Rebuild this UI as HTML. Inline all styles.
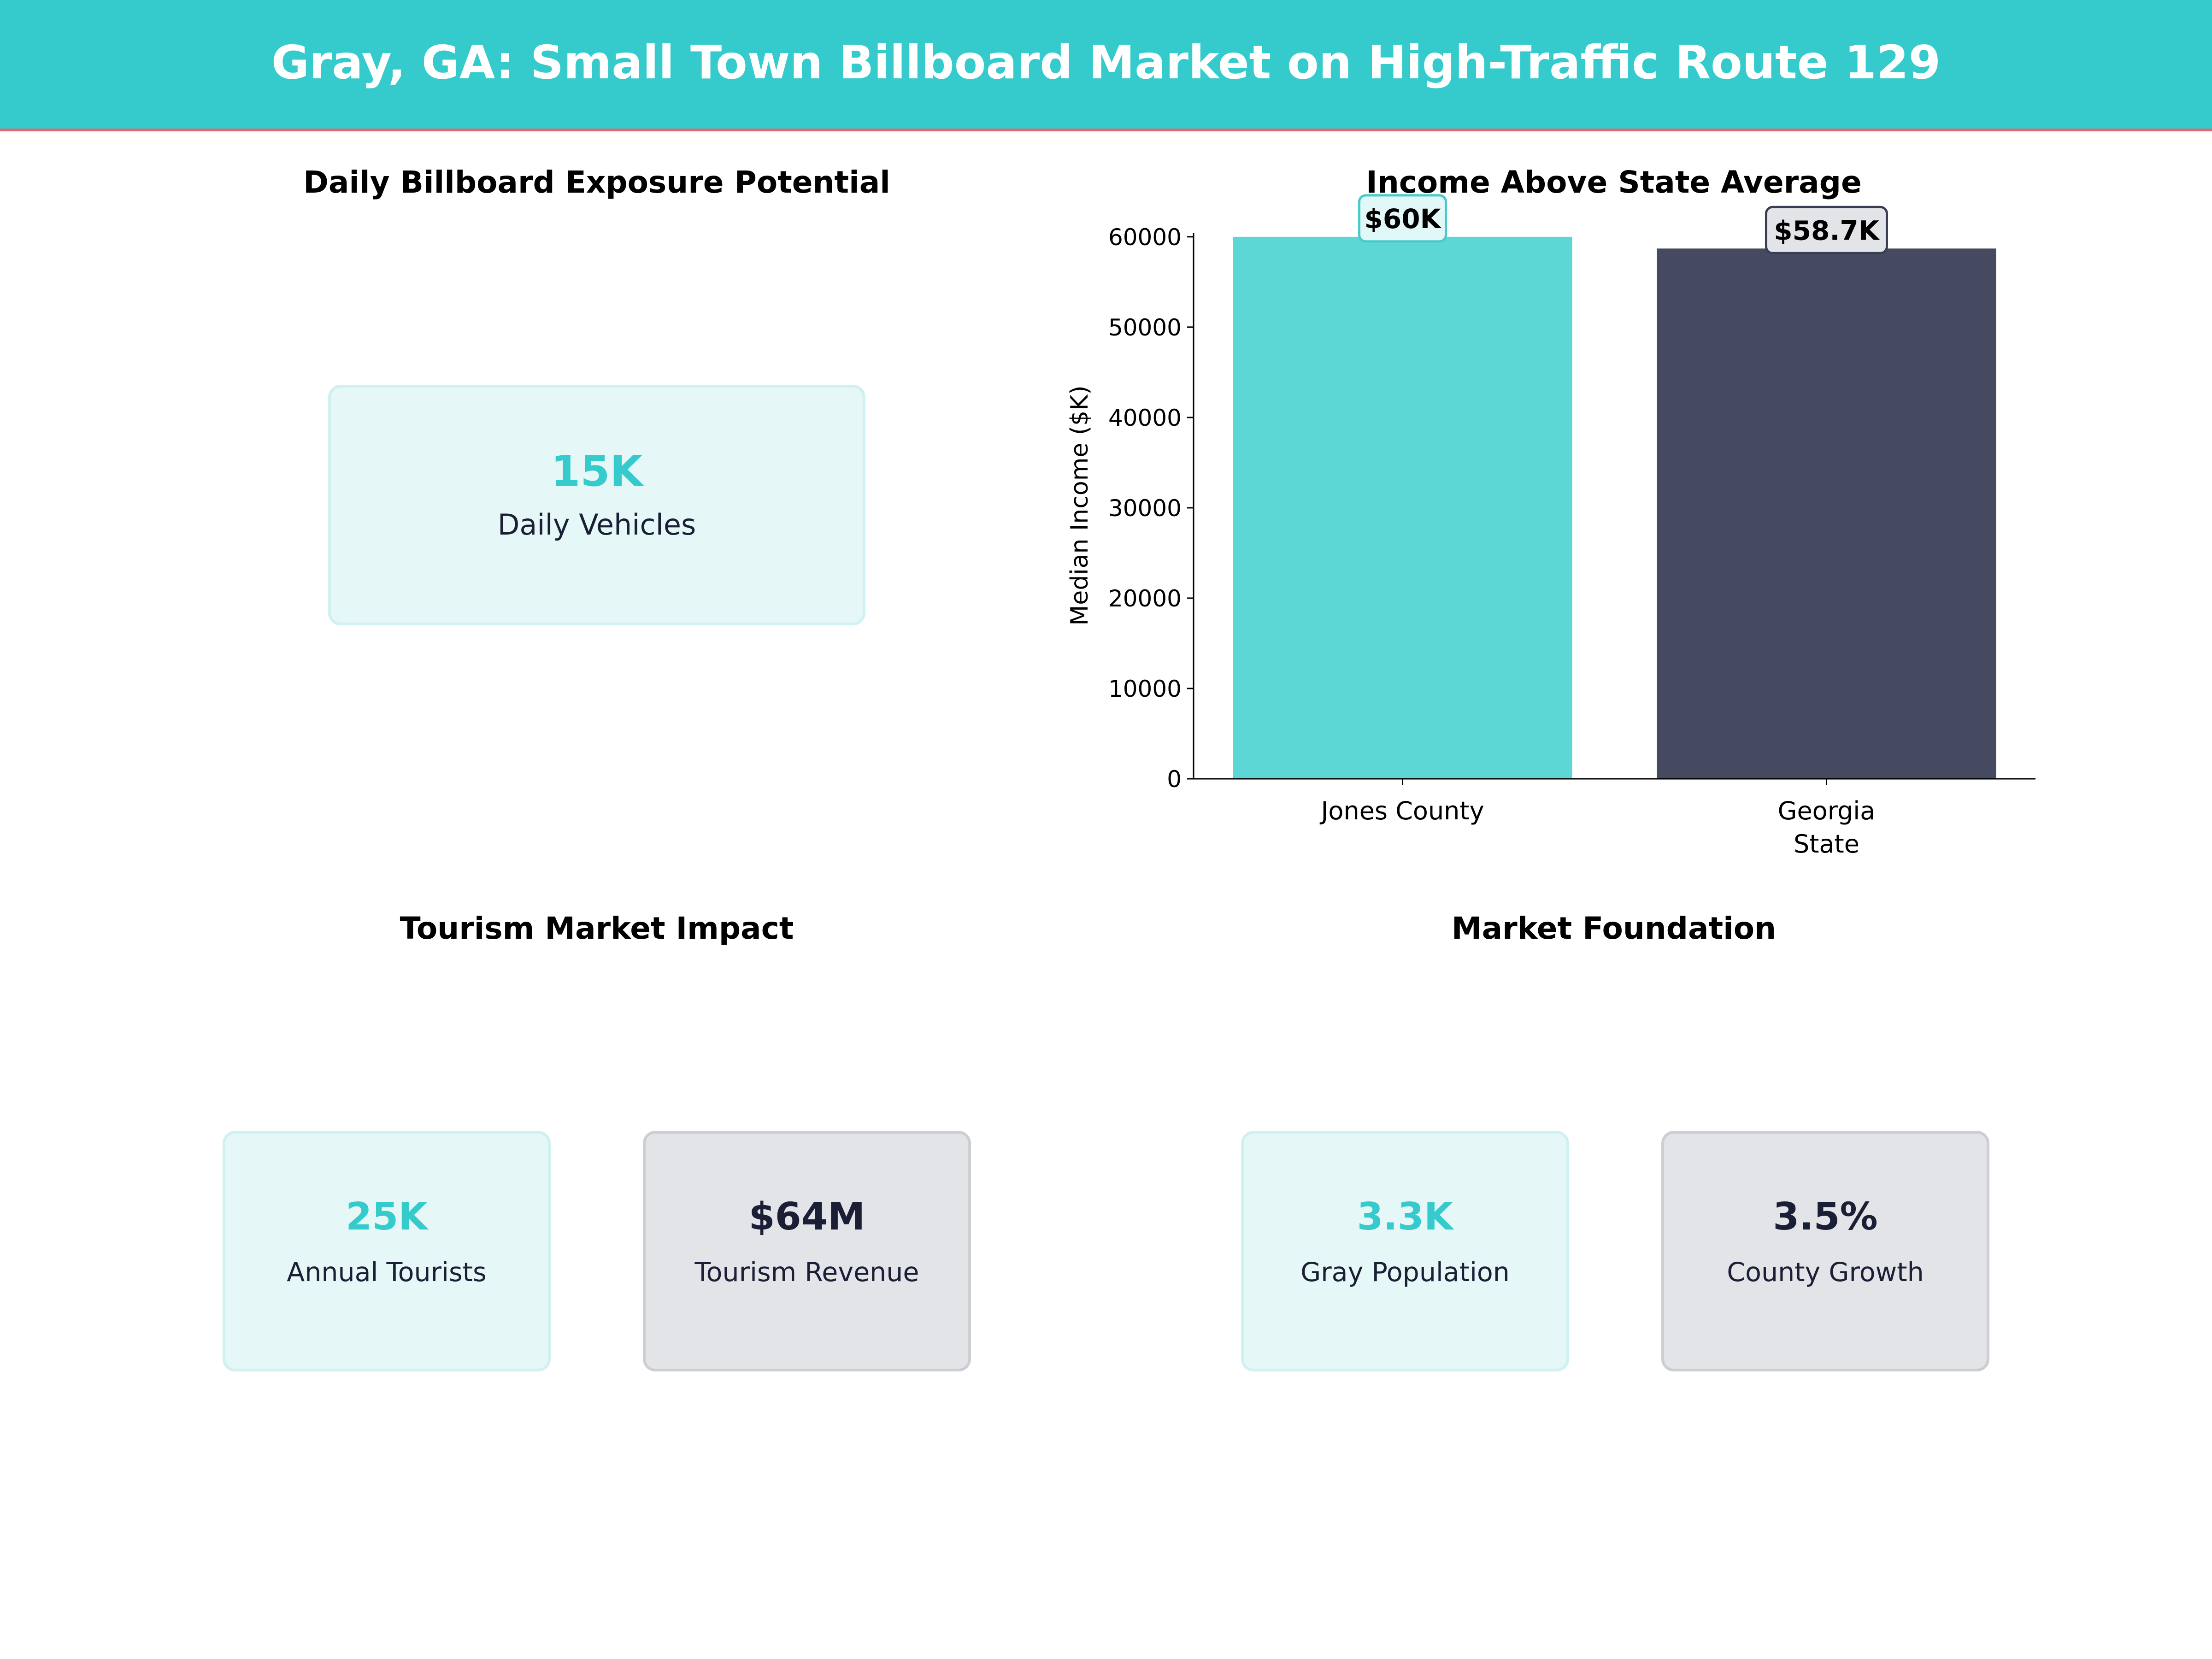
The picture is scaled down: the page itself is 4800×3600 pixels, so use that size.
<!DOCTYPE html>
<html><head><meta charset="utf-8"><style>
html,body{margin:0;padding:0;background:#fff}
svg{display:block;font-family:"DejaVu Sans","Liberation Sans",sans-serif}
</style></head><body>
<svg id="root" width="4800" height="3600" viewBox="0 0 4800 3600" xmlns="http://www.w3.org/2000/svg">
<rect x="0" y="0" width="4800" height="279" fill="#35CBCC"/>
<rect x="0" y="279" width="4800" height="6" fill="#E8636F"/>
<text x="2400" y="170" text-anchor="middle" font-size="100" font-weight="bold" fill="#fff">Gray, GA: Small Town Billboard Market on High-Traffic Route 129</text>

<text x="1295" y="418" text-anchor="middle" font-size="66" font-weight="bold" fill="#000">Daily Billboard Exposure Potential</text>
<g>
<rect x="715" y="838" width="1160" height="516" rx="24" fill="#E6F7F7" stroke="#CFF1F1" stroke-width="6"/>
<text x="1295" y="1054" text-anchor="middle" font-size="92" font-weight="bold" fill="#35CBCC">15K</text>
<text x="1295" y="1160" text-anchor="middle" font-size="62" fill="#1A1F36">Daily Vehicles</text>
</g>

<text x="3502" y="418" text-anchor="middle" font-size="66" font-weight="bold" fill="#000">Income Above State Average</text>
<g id="chart"></g>

<text x="1295" y="2037" text-anchor="middle" font-size="66" font-weight="bold" fill="#000">Tourism Market Impact</text>
<text x="3502" y="2037" text-anchor="middle" font-size="66" font-weight="bold" fill="#000">Market Foundation</text>

<g>
<rect x="486" y="2457" width="706" height="516" rx="24" fill="#E6F7F7" stroke="#CFF1F1" stroke-width="6"/>
<text x="839" y="2668" text-anchor="middle" font-size="82" font-weight="bold" fill="#35CBCC">25K</text>
<text x="839" y="2780" text-anchor="middle" font-size="57" fill="#1A1F36">Annual Tourists</text>
</g>
<g>
<rect x="1398" y="2457" width="706" height="516" rx="24" fill="#E3E4E8" stroke="#CDCED4" stroke-width="6"/>
<text x="1751" y="2668" text-anchor="middle" font-size="82" font-weight="bold" fill="#1A1F36">$64M</text>
<text x="1751" y="2780" text-anchor="middle" font-size="57" fill="#1A1F36">Tourism Revenue</text>
</g>
<g>
<rect x="2696" y="2457" width="706" height="516" rx="24" fill="#E6F7F7" stroke="#CFF1F1" stroke-width="6"/>
<text x="3049" y="2668" text-anchor="middle" font-size="82" font-weight="bold" fill="#35CBCC">3.3K</text>
<text x="3049" y="2780" text-anchor="middle" font-size="57" fill="#1A1F36">Gray Population</text>
</g>
<g>
<rect x="3608" y="2457" width="706" height="516" rx="24" fill="#E3E4E8" stroke="#CDCED4" stroke-width="6"/>
<text x="3961" y="2668" text-anchor="middle" font-size="82" font-weight="bold" fill="#1A1F36">3.5%</text>
<text x="3961" y="2780" text-anchor="middle" font-size="57" fill="#1A1F36">County Growth</text>
</g>
</svg>
<script>
const categories = [["Jones County"], ["Georgia", "State"]];
const incomeValues = [60000, 58700];
const valueLabels = ["$60K", "$58.7K"];
const yTicks = [0, 10000, 20000, 30000, 40000, 50000, 60000];

const NS = "http://www.w3.org/2000/svg";
const g = document.getElementById('chart');
const X0 = 2590, X1 = 4417, Y0 = 1690, Y1 = 505;
const xMin = -0.493, xMax = 1.493, yMax = 60450;
const xs = v => X0 + (v - xMin) / (xMax - xMin) * (X1 - X0);
const ys = v => Y0 - v / yMax * (Y0 - Y1);
const fills = ["#5DD7D5", "#464A60"];
const boxFill = ["#E2F7F7", "#E3E4E8"];
const boxStroke = ["#46CACA", "#3A3E55"];
function mk(tag, attrs) { const e = document.createElementNS(NS, tag); for (const k in attrs) e.setAttribute(k, attrs[k]); g.appendChild(e); return e; }

incomeValues.forEach((v, i) => {
  const bw = xs(0.4) - xs(0);
  const b = mk('rect', {x: xs(i) - bw, y: ys(v), width: 2 * bw, height: Y0 - ys(v), fill: fills[i]});
  
  
  const cy = ys(v) - 40;
  const w = valueLabels[i].length * 37 + 40;
  const bx = mk('rect', {x: xs(i) - w / 2, y: cy - 50, width: w, height: 100, rx: 14, fill: boxFill[i], stroke: boxStroke[i], 'stroke-width': 5});
  
  
  const t = mk('text', {x: xs(i), y: cy + 21, 'text-anchor': 'middle', 'font-size': 58, 'font-weight': 'bold', fill: '#000'});
  t.textContent = valueLabels[i];
  
  
  mk('line', {x1: xs(i), x2: xs(i), y1: Y0, y2: Y0 + 14, stroke: '#000', 'stroke-width': 3});
  categories[i].forEach((line, j) => {
    const ct = mk('text', {x: xs(i), y: Y0 + 88 + j * 72, 'text-anchor': 'middle', 'font-size': 54, fill: '#000'});
    ct.textContent = line;
    
    
  });
});
yTicks.forEach(v => {
  mk('line', {x1: X0 - 14, x2: X0, y1: ys(v), y2: ys(v), stroke: '#000', 'stroke-width': 3});
  const t = mk('text', {x: X0 - 26, y: ys(v) + 18, 'text-anchor': 'end', 'font-size': 50, fill: '#000'});
  t.textContent = String(v);
  
  
});
const ax = mk('line', {x1: X0, x2: X0, y1: Y1, y2: Y0, stroke: '#000', 'stroke-width': 3});


const bx2 = mk('line', {x1: X0, x2: X1, y1: Y0, y2: Y0, stroke: '#000', 'stroke-width': 3});


const yl = mk('text', {x: 0, y: 0, transform: 'translate(2360,1097) rotate(-90)', 'text-anchor': 'middle', 'font-size': 52, fill: '#000'});
yl.textContent = 'Median Income ($K)';


</script>
</body></html>
